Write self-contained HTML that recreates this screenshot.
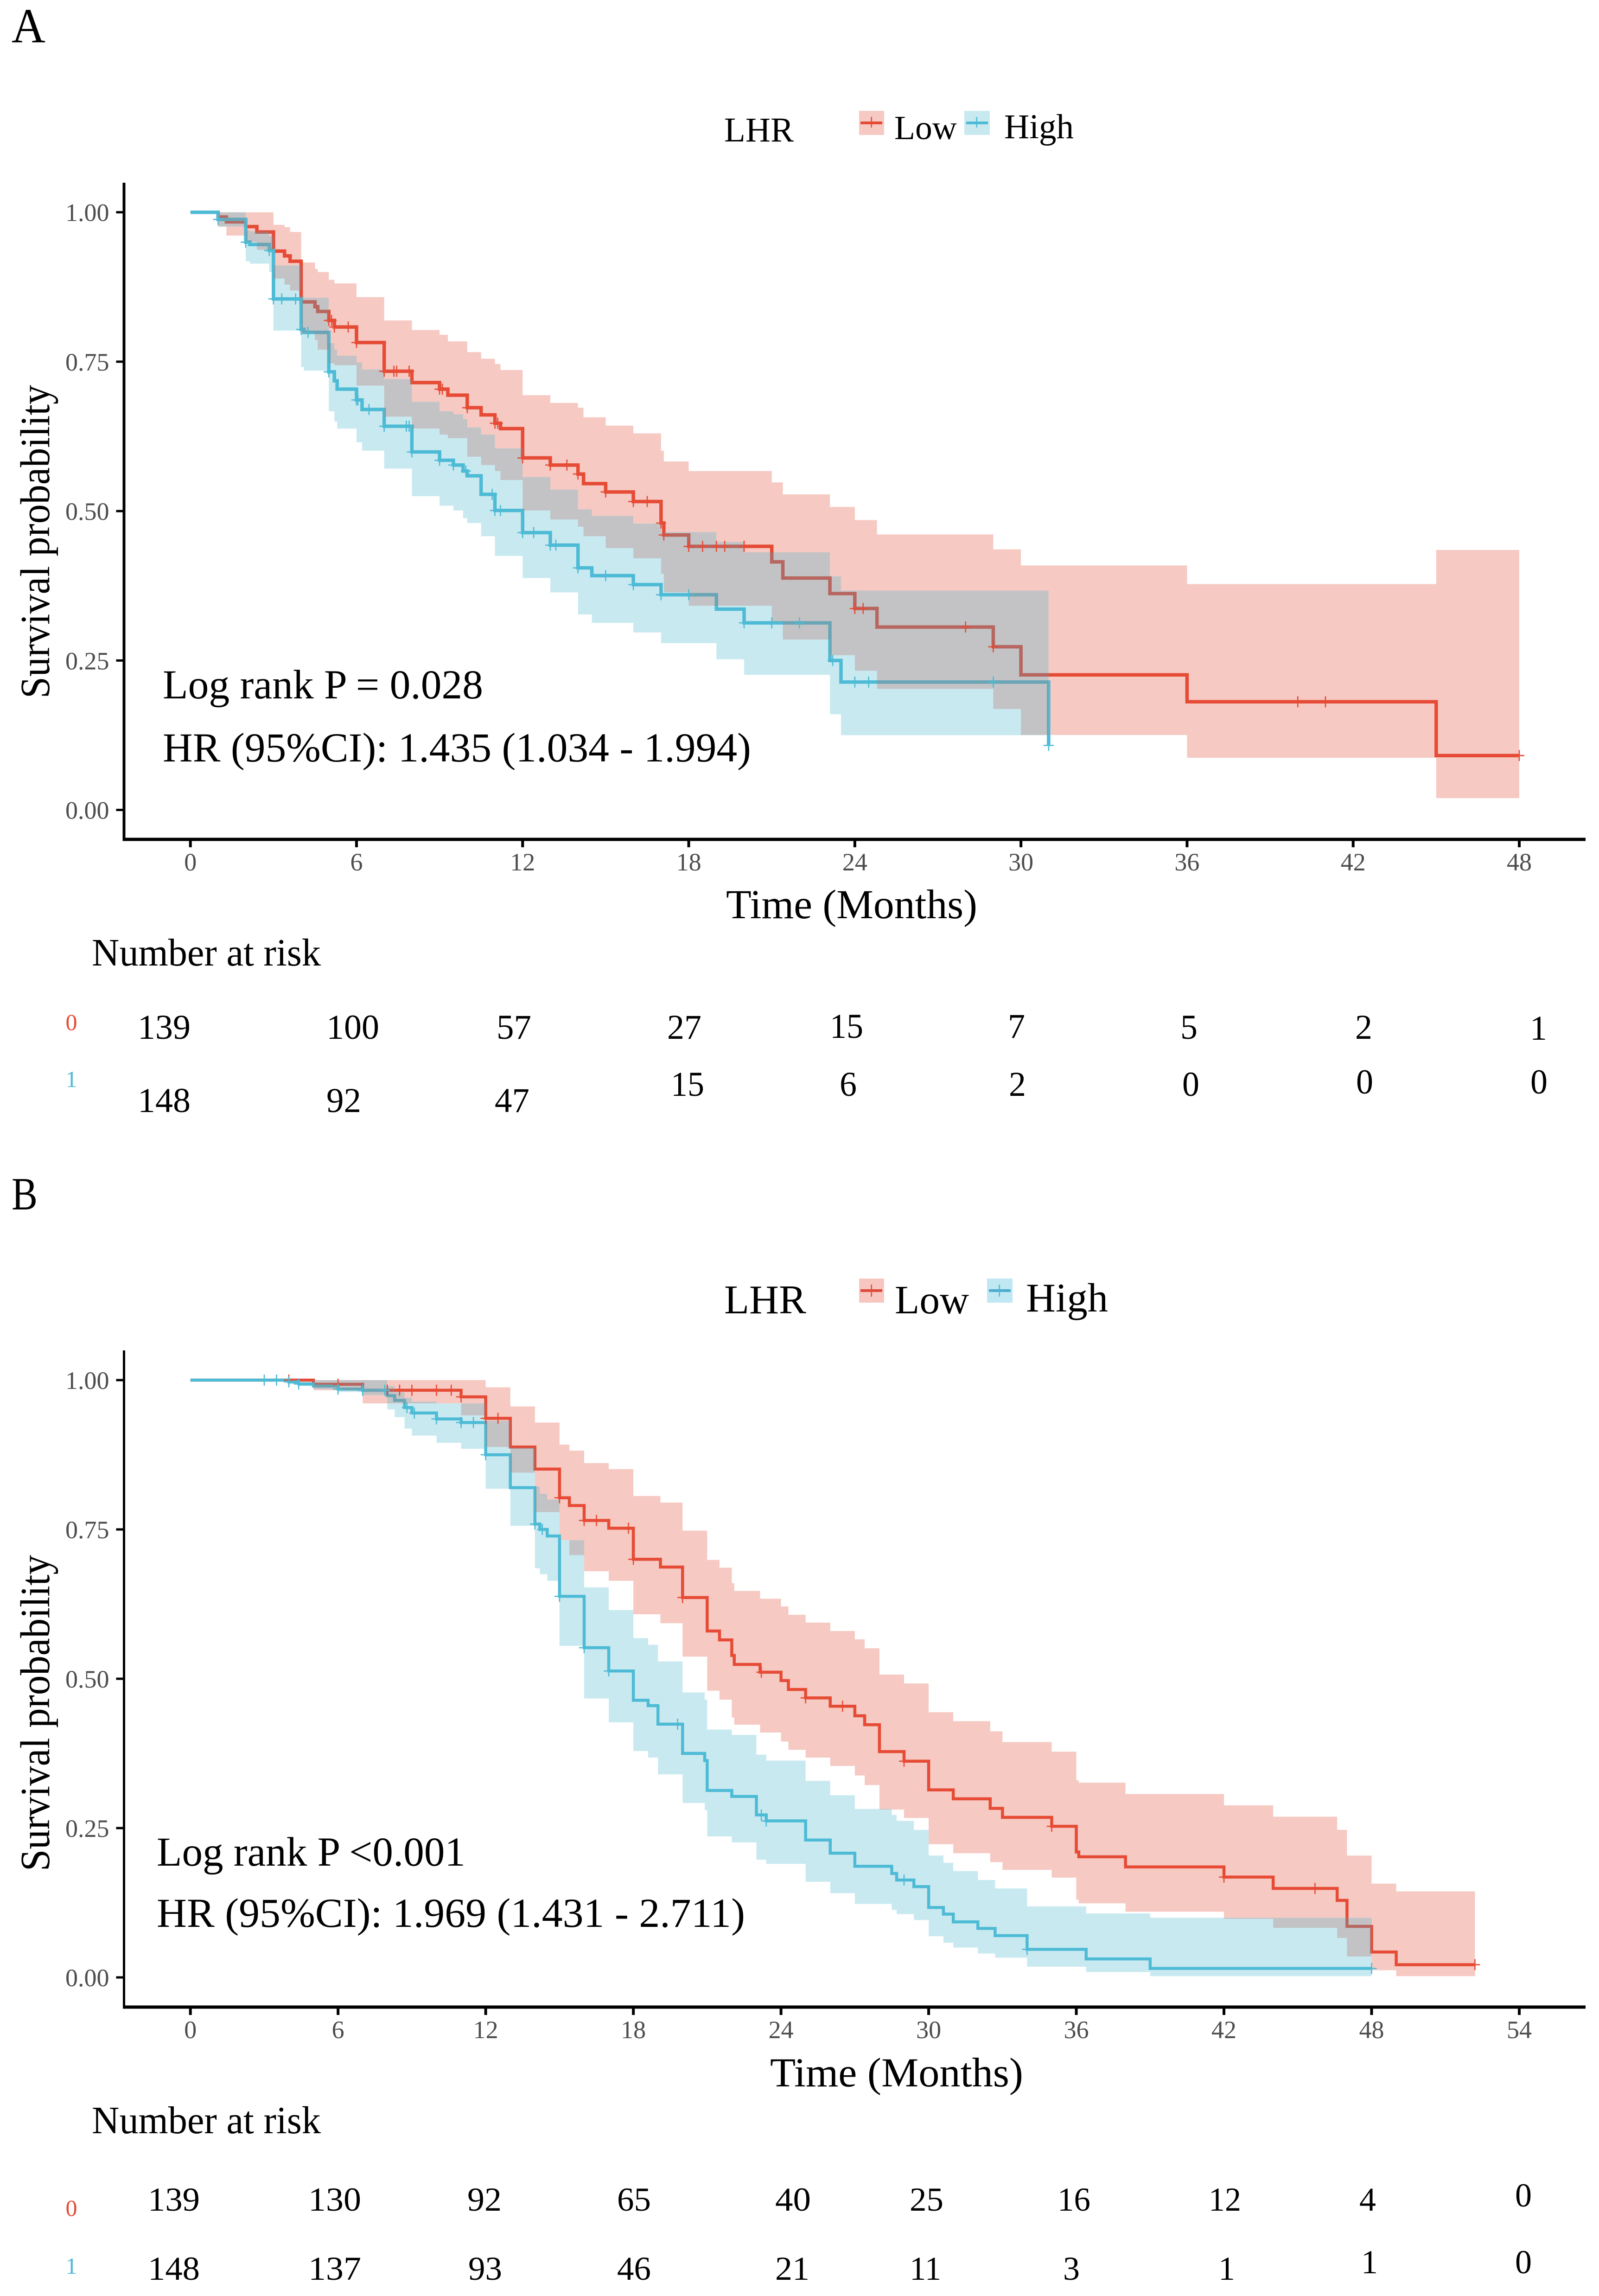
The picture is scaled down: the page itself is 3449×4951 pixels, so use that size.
<!DOCTYPE html>
<html lang="en">
<head>
<meta charset="utf-8">
<title>Kaplan-Meier survival curves by LHR</title>
<style>
html,body{margin:0;padding:0;background:#fff;}
svg{display:block;}
text{font-family:"Liberation Serif","DejaVu Serif",serif;fill:#000;}
.tick{fill:#4d4d4d;font-size:54px;}
.risk-a{font-size:75px;}
.risk-b{font-size:72px;}
.ann{font-size:89px;}
</style>
</head>
<body>
<svg id="chart" xmlns="http://www.w3.org/2000/svg" width="3449" height="4951" viewBox="0 0 3449 4951">
<rect width="3449" height="4951" fill="#ffffff"/>

<g id="panel-a"></g>
<g id="panel-b"></g>

<g>
<text x="25" y="91" font-size="106" textLength="73" lengthAdjust="spacingAndGlyphs">A</text>
<text x="1562" y="305" font-size="75" textLength="150" lengthAdjust="spacingAndGlyphs">LHR</text>
<g>
<rect x="1853" y="239" width="54" height="52" fill="#f6c9c3"/>
<rect x="1856" y="262" width="47" height="6" fill="#e64b35"/>
<rect x="1878.5" y="252" width="2.5" height="23" fill="#e64b35"/>
<text x="1929" y="300" font-size="73" textLength="135" lengthAdjust="spacingAndGlyphs">Low</text>
</g>
<g>
<rect x="2080" y="239" width="55" height="52" fill="#c9e9f1"/>
<rect x="2084" y="262" width="47" height="6" fill="#4dbbd5"/>
<rect x="2105.5" y="252" width="2.5" height="23" fill="#4dbbd5"/>
<text x="2166" y="298" font-size="75" textLength="150" lengthAdjust="spacingAndGlyphs">High</text>
</g>
<text class="ann" x="351" y="1506" textLength="691" lengthAdjust="spacingAndGlyphs">Log rank P = 0.028</text>
<text class="ann" x="351" y="1642" textLength="1269" lengthAdjust="spacingAndGlyphs">HR (95%CI): 1.435 (1.034 - 1.994)</text>
<text transform="translate(106 1168) rotate(-90)" text-anchor="middle" font-size="90" textLength="676" lengthAdjust="spacingAndGlyphs">Survival probability</text>
<text x="1566" y="1980" font-size="89" textLength="542" lengthAdjust="spacingAndGlyphs">Time (Months)</text>
<text x="198" y="2082" font-size="84" textLength="494" lengthAdjust="spacingAndGlyphs">Number at risk</text>
<text x="154" y="2221" font-size="50" text-anchor="middle" style="fill:#e64b35">0</text>
<text x="154" y="2344" font-size="50" text-anchor="middle" style="fill:#4dbbd5">1</text>
<g class="risk-a">
<text x="297" y="2240" textLength="114" lengthAdjust="spacingAndGlyphs">139</text>
<text x="704" y="2240" textLength="114" lengthAdjust="spacingAndGlyphs">100</text>
<text x="1071" y="2240" textLength="75" lengthAdjust="spacingAndGlyphs">57</text>
<text x="1439" y="2240" textLength="74" lengthAdjust="spacingAndGlyphs">27</text>
<text x="1790" y="2238" textLength="72" lengthAdjust="spacingAndGlyphs">15</text>
<text x="2174" y="2238" textLength="37" lengthAdjust="spacingAndGlyphs">7</text>
<text x="2546" y="2240" textLength="37" lengthAdjust="spacingAndGlyphs">5</text>
<text x="2923" y="2240" textLength="37" lengthAdjust="spacingAndGlyphs">2</text>
<text x="3300" y="2242" textLength="37" lengthAdjust="spacingAndGlyphs">1</text>
</g>
<g class="risk-a">
<text x="297" y="2398" textLength="114" lengthAdjust="spacingAndGlyphs">148</text>
<text x="704" y="2398" textLength="75" lengthAdjust="spacingAndGlyphs">92</text>
<text x="1067" y="2398" textLength="75" lengthAdjust="spacingAndGlyphs">47</text>
<text x="1447" y="2363" textLength="72" lengthAdjust="spacingAndGlyphs">15</text>
<text x="1811" y="2363" textLength="37" lengthAdjust="spacingAndGlyphs">6</text>
<text x="2176" y="2363" textLength="37" lengthAdjust="spacingAndGlyphs">2</text>
<text x="2550" y="2363" textLength="37" lengthAdjust="spacingAndGlyphs">0</text>
<text x="2925" y="2358" textLength="37" lengthAdjust="spacingAndGlyphs">0</text>
<text x="3301" y="2358" textLength="37" lengthAdjust="spacingAndGlyphs">0</text>
</g>
</g>

<g>
<text x="25" y="2608" font-size="100" textLength="56" lengthAdjust="spacingAndGlyphs">B</text>
<text x="1562" y="2832" font-size="88" textLength="177" lengthAdjust="spacingAndGlyphs">LHR</text>
<g>
<rect x="1853" y="2757" width="54" height="52" fill="#f8c6c1"/>
<rect x="1856" y="2780" width="47" height="6" fill="#dd4b3d"/>
<rect x="1878.5" y="2770" width="2.5" height="26" fill="#e64b35"/>
<text x="1930" y="2832" font-size="87" textLength="160" lengthAdjust="spacingAndGlyphs">Low</text>
</g>
<g>
<rect x="2129" y="2757" width="55" height="52" fill="#bfe8f3"/>
<rect x="2133" y="2780" width="47" height="6" fill="#4dacd0"/>
<rect x="2154.5" y="2770" width="2.5" height="26" fill="#4dbbd5"/>
<text x="2213" y="2828" font-size="88" textLength="177" lengthAdjust="spacingAndGlyphs">High</text>
</g>
<text class="ann" x="338" y="4023" textLength="666" lengthAdjust="spacingAndGlyphs">Log rank P &lt;0.001</text>
<text class="ann" x="338" y="4155" textLength="1269" lengthAdjust="spacingAndGlyphs">HR (95%CI): 1.969 (1.431 - 2.711)</text>
<text transform="translate(106 3694) rotate(-90)" text-anchor="middle" font-size="90" textLength="682" lengthAdjust="spacingAndGlyphs">Survival probability</text>
<text x="1661" y="4499" font-size="89" textLength="546" lengthAdjust="spacingAndGlyphs">Time (Months)</text>
<text x="198" y="4600" font-size="84" textLength="494" lengthAdjust="spacingAndGlyphs">Number at risk</text>
<text x="154" y="4778" font-size="50" text-anchor="middle" style="fill:#e64b35">0</text>
<text x="154" y="4903" font-size="50" text-anchor="middle" style="fill:#4dbbd5">1</text>
<g class="risk-b">
<text x="319" y="4767" textLength="112" lengthAdjust="spacingAndGlyphs">139</text>
<text x="665" y="4767" textLength="114" lengthAdjust="spacingAndGlyphs">130</text>
<text x="1008" y="4767" textLength="74" lengthAdjust="spacingAndGlyphs">92</text>
<text x="1331" y="4767" textLength="73" lengthAdjust="spacingAndGlyphs">65</text>
<text x="1672" y="4767" textLength="77" lengthAdjust="spacingAndGlyphs">40</text>
<text x="1962" y="4767" textLength="73" lengthAdjust="spacingAndGlyphs">25</text>
<text x="2281" y="4767" textLength="71" lengthAdjust="spacingAndGlyphs">16</text>
<text x="2607" y="4767" textLength="70" lengthAdjust="spacingAndGlyphs">12</text>
<text x="2932" y="4767" textLength="36" lengthAdjust="spacingAndGlyphs">4</text>
<text x="3268" y="4758" textLength="36" lengthAdjust="spacingAndGlyphs">0</text>
</g>
<g class="risk-b">
<text x="319" y="4916" textLength="112" lengthAdjust="spacingAndGlyphs">148</text>
<text x="665" y="4916" textLength="114" lengthAdjust="spacingAndGlyphs">137</text>
<text x="1010" y="4916" textLength="73" lengthAdjust="spacingAndGlyphs">93</text>
<text x="1331" y="4916" textLength="73" lengthAdjust="spacingAndGlyphs">46</text>
<text x="1672" y="4916" textLength="74" lengthAdjust="spacingAndGlyphs">21</text>
<text x="1962" y="4916" textLength="68" lengthAdjust="spacingAndGlyphs">11</text>
<text x="2293" y="4916" textLength="36" lengthAdjust="spacingAndGlyphs">3</text>
<text x="2628" y="4916" textLength="36" lengthAdjust="spacingAndGlyphs">1</text>
<text x="2936" y="4902" textLength="36" lengthAdjust="spacingAndGlyphs">1</text>
<text x="3268" y="4902" textLength="36" lengthAdjust="spacingAndGlyphs">0</text>
</g>
</g>
</svg>

<script>
/* shared tick labels */
const yTickValues = [0, 0.25, 0.5, 0.75, 1];
const aXTicks = [0, 6, 12, 18, 24, 30, 36, 42, 48];
const bXTicks = [0, 6, 12, 18, 24, 30, 36, 42, 48, 54];

/* Panel A, Low */
const aLowTimes = [0,1,1.3,2,2.4,3,3.4,3.6,4,4.5,4.6,5,5.2,6,7,8,9,9.3,10,10.5,11,11.2,12,13,14,14.2,15,16,17,17.1,18,21,21.4,23.1,24,24.8,29,30,36,45];
const aLowSurvival = [1,.992,.984,.976,.967,.935,.927,.918,.85,.842,.834,.819,.808,.782,.734,.715,.704,.694,.673,.661,.647,.638,.589,.577,.562,.546,.532,.516,.48,.46,.441,.415,.388,.362,.337,.306,.273,.226,.181,.091];
const aLowUpper = [1,1,1,1,1,.979,.975,.967,.916,.905,.9,.887,.881,.858,.819,.803,.795,.784,.766,.755,.746,.736,.694,.681,.673,.657,.643,.63,.601,.583,.567,.548,.528,.507,.485,.461,.436,.409,.378,.435];
const aLowLower = [1,.976,.961,.95,.937,.889,.879,.869,.797,.786,.77,.747,.744,.71,.658,.638,.628,.622,.591,.577,.567,.552,.501,.486,.474,.458,.438,.421,.395,.364,.3416,.315,.285,.259,.233,.2026,.169,.1254,.0873,.0197];
const aLowEnd = 48;
const aLowCensored = [5,5.1,5.2,5.7,6,7,7.35,7.45,7.9,9,9.1,10,11,11.1,12,13,13.6,14,15,16,16.5,17,17.1,18,18.5,19,19.3,20,24,24.3,28,29,40,41,48];

/* Panel A, High */
const aHighTimes = [0,1,2,2.15,2.85,3,4,4.1,5,5.2,5.3,6,6.2,7,8,9,9.5,9.85,10,10.5,11,12,13,14,14.5,16,17,19,20,23.1,23.5,31];
const aHighSurvival = [1,.988,.95,.946,.936,.855,.804,.799,.733,.718,.704,.686,.67,.642,.599,.585,.577,.567,.559,.528,.501,.464,.443,.405,.392,.377,.36,.336,.313,.25,.214,.108];
const aHighUpper = [1,1,.97,.968,.96,.911,.861,.857,.781,.77,.76,.749,.737,.721,.683,.667,.662,.654,.64,.628,.605,.557,.536,.503,.492,.479,.465,.4485,.431,.391,.367,.367];
const aHighLower = [1,.976,.918,.914,.9,.802,.741,.735,.667,.65,.638,.615,.601,.571,.525,.509,.501,.488,.48,.458,.425,.388,.364,.327,.313,.297,.279,.252,.226,.16,.125,.125];
const aHighEnd = 31;
const aHighCensored = [1,2,2.85,3,3.3,3.8,4,4.25,5,6,6.05,6.45,7,7.8,7.9,8,9,9.5,9.95,10.9,11,11.2,12,12.4,13,13.2,14,15,16,17,18,20,21,22,23.2,24,24.5,29,31];

/* Panel B, Low */
const bLowTimes = [0,5,7,11,12,13,14,15,15.4,16,17,18,19.1,20,21,21.5,22,22.1,23.15,24,24.3,25,26,27,27.4,28,29,30,31,32.5,33,35,36,36.1,38,42,44,46.6,47,48,49];
const bLowSurvival = [1,.993,.983,.972,.936,.888,.851,.803,.79,.765,.752,.7,.687,.636,.58,.565,.539,.524,.511,.497,.482,.468,.454,.438,.423,.378,.362,.314,.299,.283,.268,.253,.21,.202,.185,.168,.149,.129,.0855,.0425,.0213];
const bLowUpper = [1,1,1,1,.988,.956,.929,.892,.882,.861,.851,.806,.795,.748,.699,.686,.66,.647,.634,.621,.607,.594,.58,.566,.551,.507,.492,.444,.429,.412,.394,.378,.33,.326,.307,.288,.269,.247,.204,.157,.144];
const bLowLower = [1,.983,.961,.941,.888,.845,.779,.732,.707,.68,.664,.608,.593,.537,.48,.465,.435,.423,.41,.395,.381,.368,.354,.338,.322,.281,.267,.223,.208,.193,.18,.167,.13,.124,.11,.098,.083,.066,.035,.012,.002];
const bLowEnd = 52.2;
const bLowCensored = [4,6,7,8,8.5,9,10,10.6,11,12,12.5,15,16,16.5,17.8,18,20,23.2,25,26.5,29,35,42,45.7,52.2];

/* Panel B, High */
const bHighTimes = [0,4,4.4,5,6,7,8,8.3,8.7,9,10,11,12,13,14,14.2,14.5,15,16,17,18,18.6,19,20,20.9,21,22,23,23.4,25,26,27,28.5,28.7,29.4,30,30.6,31,32,32.7,34,36.4,39];
const bHighSurvival = [1,.997,.9935,.99,.985,.983,.974,.966,.954,.945,.935,.929,.875,.82,.759,.75,.739,.638,.552,.513,.464,.455,.424,.375,.363,.313,.303,.272,.262,.23,.208,.186,.174,.163,.152,.117,.106,.093,.082,.07,.047,.031,.015];
const bHighUpper = [1,1,1,1,1,1,.99,.98,.97,.964,.961,.961,.932,.887,.822,.81,.8,.732,.653,.615,.568,.557,.529,.477,.465,.415,.406,.373,.363,.329,.305,.282,.272,.262,.247,.204,.192,.178,.163,.149,.119,.107,.1];
const bHighLower = [1,.994,.99,.985,.98,.975,.951,.938,.919,.907,.895,.885,.818,.756,.685,.675,.664,.555,.467,.427,.379,.368,.34,.292,.28,.236,.226,.197,.19,.16,.141,.123,.113,.106,.096,.069,.058,.05,.04,.033,.018,.009,.002];
const bHighEnd = 48;
const bHighCensored = [3,3.5,4,4.4,6,7,7.9,8.8,9.1,10,11,11.5,12,14,14.3,15,16,17,19.8,23.2,23.4,29,34,48];

const NS = 'http://www.w3.org/2000/svg';
const RED = '#e64b35', BLUE = '#4dbbd5';
const RED_BAND = '#f6c9c3', BLUE_BAND = '#c9e9f1', OVERLAP = '#c3c3c5';
const RED_DIM = '#b76660', BLUE_DIM = '#6aa5b6';

function make(tag, parent) {
  const el = document.createElementNS(NS, tag);
  parent.appendChild(el);
  return el;
}

function stepPath(times, values, end, xs, ys) {
  let d = 'M' + xs(times[0]) + ' ' + ys(values[0]);
  for (let i = 1; i < times.length; i++) {
    d += 'H' + xs(times[i]) + 'V' + ys(values[i]);
  }
  return d + 'H' + xs(end);
}

function bandPath(times, upper, lower, end, xs, ys) {
  let d = 'M' + xs(times[0]) + ' ' + ys(upper[0]);
  for (let i = 1; i < times.length; i++) {
    d += 'H' + xs(times[i]) + 'V' + ys(upper[i]);
  }
  d += 'H' + xs(end) + 'V' + ys(lower[lower.length - 1]);
  for (let i = times.length - 1; i > 0; i--) {
    d += 'H' + xs(times[i]) + 'V' + ys(lower[i - 1]);
  }
  return d + 'H' + xs(times[0]) + 'Z';
}

function valueAt(times, values, t) {
  let v = values[0];
  for (let i = 0; i < times.length; i++) {
    if (times[i] <= t) v = values[i];
  }
  return v;
}

function drawPanel(p) {
  const root = document.getElementById(p.id);
  const xs = t => p.x0 + t * p.pxPerMonth;
  const ys = s => p.y0 - s * p.pxPerUnit;

  const defs = make('defs', root);
  const lowBandD = bandPath(p.low.times, p.low.upper, p.low.lower, p.low.end, xs, ys);
  const highBandD = bandPath(p.high.times, p.high.upper, p.high.lower, p.high.end, xs, ys);
  const lowClip = make('clipPath', defs);
  lowClip.setAttribute('id', p.id + '-low-clip');
  make('path', lowClip).setAttribute('d', lowBandD);
  const highClip = make('clipPath', defs);
  highClip.setAttribute('id', p.id + '-high-clip');
  make('path', highClip).setAttribute('d', highBandD);

  const lowBand = make('path', root);
  lowBand.setAttribute('d', lowBandD);
  lowBand.setAttribute('fill', RED_BAND);
  
  

  const highBand = make('path', root);
  highBand.setAttribute('d', highBandD);
  highBand.setAttribute('fill', BLUE_BAND);
  
  

  const lowD = stepPath(p.low.times, p.low.survival, p.low.end, xs, ys);
  const highD = stepPath(p.high.times, p.high.survival, p.high.end, xs, ys);

  const lowLine = make('path', root);
  lowLine.setAttribute('d', lowD);
  lowLine.setAttribute('fill', 'none');
  lowLine.setAttribute('stroke', RED);
  lowLine.setAttribute('stroke-width', p.lineWidth);
  
  

  const highLine = make('path', root);
  highLine.setAttribute('d', highD);
  highLine.setAttribute('fill', 'none');
  highLine.setAttribute('stroke', BLUE);
  highLine.setAttribute('stroke-width', p.lineWidth);
  
  

  /* band overlap: gray fill with dimmed lines */
  const outer = make('g', root);
  outer.setAttribute('clip-path', 'url(#' + p.id + '-low-clip)');
  
  
  const inner = make('g', outer);
  inner.setAttribute('clip-path', 'url(#' + p.id + '-high-clip)');
  const grayFill = make('path', inner);
  grayFill.setAttribute('d', highBandD);
  grayFill.setAttribute('fill', OVERLAP);
  const lowDim = make('path', inner);
  lowDim.setAttribute('d', lowD);
  lowDim.setAttribute('fill', 'none');
  lowDim.setAttribute('stroke', RED_DIM);
  lowDim.setAttribute('stroke-width', p.lineWidth);
  const highDim = make('path', inner);
  highDim.setAttribute('d', highD);
  highDim.setAttribute('fill', 'none');
  highDim.setAttribute('stroke', BLUE_DIM);
  highDim.setAttribute('stroke-width', p.lineWidth);

  /* censor marks */
  [[p.low, RED, 'low'], [p.high, BLUE, 'high']].forEach(function (entry) {
    const series = entry[0];
    series.censored.forEach(function (t) {
      const cx = xs(t), cy = ys(valueAt(series.times, series.survival, t));
      const mark = make('path', root);
      mark.setAttribute('d', 'M' + (cx - 11) + ' ' + cy + 'H' + (cx + 11) + 'M' + cx + ' ' + (cy - 12) + 'V' + (cy + 12));
      mark.setAttribute('stroke', entry[1]);
      mark.setAttribute('stroke-width', '2.6');
      mark.setAttribute('fill', 'none');
      
      
    });
  });

  /* axes */
  const yAxis = make('rect', root);
  yAxis.setAttribute('x', p.axisX - p.yAxisWidth / 2);
  yAxis.setAttribute('y', p.axisTop);
  yAxis.setAttribute('width', p.yAxisWidth);
  yAxis.setAttribute('height', p.axisY - p.axisTop);
  yAxis.setAttribute('fill', '#000');
  
  

  const xAxis = make('rect', root);
  xAxis.setAttribute('x', p.axisX - p.yAxisWidth / 2);
  xAxis.setAttribute('y', p.axisY - 3.5);
  xAxis.setAttribute('width', p.axisRight - p.axisX + p.yAxisWidth / 2);
  xAxis.setAttribute('height', 7);
  xAxis.setAttribute('fill', '#000');
  
  

  p.xTicks.forEach(function (v) {
    const tick = make('rect', root);
    tick.setAttribute('x', xs(v) - 3);
    tick.setAttribute('y', p.axisY);
    tick.setAttribute('width', 6);
    tick.setAttribute('height', 17);
    tick.setAttribute('fill', '#000');
    
    
    const label = make('text', root);
    label.setAttribute('x', xs(v));
    label.setAttribute('y', p.axisY + 67);
    label.setAttribute('text-anchor', 'middle');
    label.setAttribute('class', 'tick');
    label.textContent = String(v);
    
    
  });

  yTickValues.forEach(function (v) {
    const tick = make('rect', root);
    tick.setAttribute('x', p.axisX - 17);
    tick.setAttribute('y', ys(v) - 2.5);
    tick.setAttribute('width', 17);
    tick.setAttribute('height', 5);
    tick.setAttribute('fill', '#000');
    
    
    const label = make('text', root);
    label.setAttribute('x', p.axisX - 32);
    label.setAttribute('y', ys(v) + 19);
    label.setAttribute('text-anchor', 'end');
    label.setAttribute('class', 'tick');
    label.textContent = v.toFixed(2);
    
    
  });
}

drawPanel({
  id: 'panel-a',
  x0: 410.7, pxPerMonth: (3277 - 410.7) / 48,
  y0: 1746.5, pxPerUnit: 1288.8,
  axisX: 267.5, axisY: 1810, axisTop: 394, axisRight: 3420, yAxisWidth: 6, lineWidth: 7.5,
  xTicks: aXTicks,
  low: {times: aLowTimes, survival: aLowSurvival, upper: aLowUpper, lower: aLowLower, end: aLowEnd, censored: aLowCensored},
  high: {times: aHighTimes, survival: aHighSurvival, upper: aHighUpper, lower: aHighLower, end: aHighEnd, censored: aHighCensored}
});

drawPanel({
  id: 'panel-b',
  x0: 410.7, pxPerMonth: (3277 - 410.7) / 54,
  y0: 4264, pxPerUnit: 1288,
  axisX: 267.5, axisY: 4328, axisTop: 2912, axisRight: 3420, yAxisWidth: 5, lineWidth: 6.5,
  xTicks: bXTicks,
  low: {times: bLowTimes, survival: bLowSurvival, upper: bLowUpper, lower: bLowLower, end: bLowEnd, censored: bLowCensored},
  high: {times: bHighTimes, survival: bHighSurvival, upper: bHighUpper, lower: bHighLower, end: bHighEnd, censored: bHighCensored}
});
</script>
</body>
</html>
